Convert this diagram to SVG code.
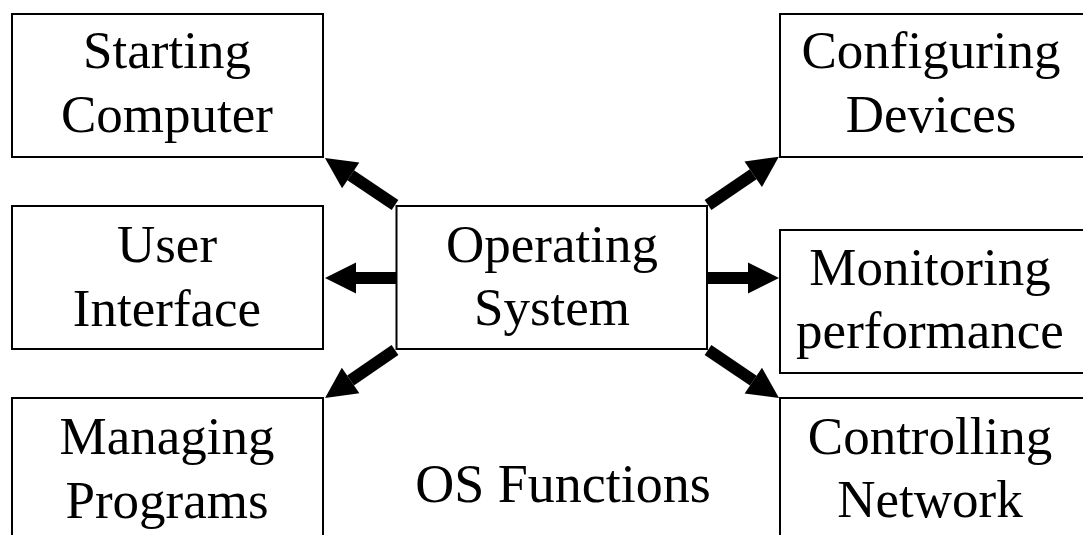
<svg xmlns="http://www.w3.org/2000/svg" width="1083" height="535" viewBox="0 0 1083 535">
<style>
.box{fill:#fff;stroke:#000;stroke-width:2}
.t{font-family:"Liberation Serif","Times New Roman",serif;font-size:53px;fill:#000;text-anchor:middle}
.arr{stroke:#000;stroke-width:12;fill:none;marker-end:url(#ah)}
</style>
<defs>
<marker id="ah" markerUnits="userSpaceOnUse" markerWidth="31" markerHeight="31" viewBox="0 0 31 31" refX="0" refY="15.5" orient="auto" overflow="visible">
<path d="M0,0 L31,15.5 L0,31 z" fill="#000"/>
</marker>
</defs>
<rect width="1083" height="535" fill="#fff"/>
<g id="node-starting">
<rect class="box" x="12" y="14" width="311" height="143"/>
<text class="t" x="167" y="68">Starting</text>
<text class="t" x="167" y="132">Computer</text>
</g>
<g id="node-user">
<rect class="box" x="12" y="206" width="311" height="143"/>
<text class="t" x="167" y="262">User</text>
<text class="t" x="167" y="326">Interface</text>
</g>
<g id="node-managing">
<rect class="box" x="12" y="398" width="311" height="143"/>
<text class="t" x="167" y="454">Managing</text>
<text class="t" x="167" y="518">Programs</text>
</g>
<g id="node-os">
<rect class="box" x="396.5" y="206" width="310.5" height="143"/>
<text class="t" x="552" y="262">Operating</text>
<text class="t" x="552" y="325">System</text>
</g>
<g id="node-configuring">
<rect class="box" x="780" y="14" width="305" height="143"/>
<text class="t" x="931" y="68">Configuring</text>
<text class="t" x="931" y="132">Devices</text>
</g>
<g id="node-monitoring">
<rect class="box" x="780" y="230" width="305" height="143"/>
<text class="t" x="930" y="285">Monitoring</text>
<text class="t" x="930" y="348">performance</text>
</g>
<g id="node-controlling">
<rect class="box" x="780" y="398" width="305" height="143"/>
<text class="t" x="930" y="454">Controlling</text>
<text class="t" x="930" y="517">Network</text>
</g>
<g id="label-title">
<text class="t" x="563" y="502" style="font-size:54px">OS Functions</text>
</g>
<g id="connectors">
<line class="arr" x1="395" y1="205" x2="350.7" y2="175.3"/>
<line class="arr" x1="708" y1="205" x2="753.2" y2="174.2"/>
<line class="arr" x1="396" y1="278" x2="356" y2="278"/>
<line class="arr" x1="707" y1="278" x2="748" y2="278"/>
<line class="arr" x1="395" y1="350" x2="350.6" y2="380.5"/>
<line class="arr" x1="708" y1="350" x2="753.3" y2="380.6"/>
</g>
</svg>
